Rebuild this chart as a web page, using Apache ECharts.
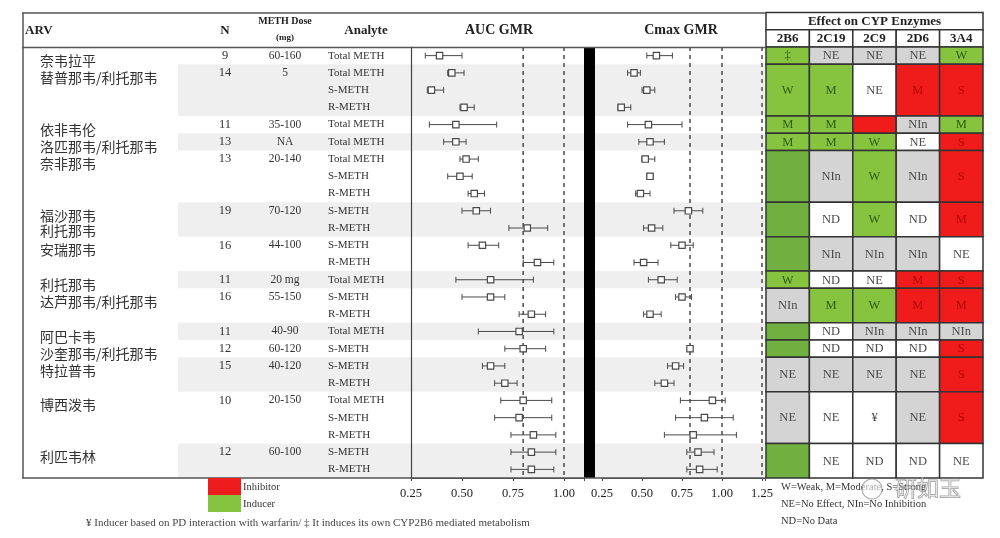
<!DOCTYPE html>
<html><head><meta charset="utf-8">
<script src="https://cdn.jsdelivr.net/npm/echarts@6/dist/echarts.min.js"></script>
<style>html,body{margin:0;padding:0;background:#fff}#c{width:1000px;height:538px}</style>
</head><body><div id="c"></div>
<script>
// ---------------- data ----------------
const arvNames = ['奈韦拉平','替普那韦/利托那韦','依非韦伦','洛匹那韦/利托那韦','奈非那韦','福沙那韦\n利托那韦','安瑞那韦','利托那韦','达芦那韦/利托那韦','阿巴卡韦','沙奎那韦/利托那韦','特拉普韦','博西泼韦','利匹韦林'];
const arvRowCount = [1,3,1,1,3,2,2,1,2,1,1,2,3,2];
const arvN = ['9','14','11','13','13','19','16','11','16','11','12','15','10','12'];
const arvDose = ['60-160','5','35-100','NA','20-140','70-120','44-100','20 mg','55-150','40-90','60-120','40-120','20-150','60-100'];
const analytes = ['Total METH','Total METH','S-METH','R-METH','Total METH','Total METH','Total METH','S-METH','R-METH','S-METH','R-METH','S-METH','R-METH','Total METH','S-METH','R-METH','Total METH','S-METH','S-METH','R-METH','Total METH','S-METH','R-METH','S-METH','R-METH'];

const aucGmr  = [0.39,0.45,0.35,0.51,0.47,0.47,0.52,0.49,0.56,0.57,0.82,0.60,0.87,0.64,0.64,0.84,0.78,0.80,0.64,0.71,0.80,0.78,0.85,0.84,0.84];
const aucLow  = [0.32,0.43,0.33,0.49,0.34,0.41,0.49,0.43,0.53,0.50,0.73,0.53,0.80,0.47,0.50,0.78,0.58,0.71,0.60,0.66,0.69,0.66,0.74,0.74,0.74];
const aucHigh = [0.50,0.51,0.41,0.56,0.67,0.52,0.58,0.55,0.61,0.64,0.92,0.68,0.95,0.85,0.71,0.91,0.95,0.91,0.71,0.77,0.94,0.94,0.96,0.96,0.95];

const cmaxGmr  = [0.59,0.45,0.53,0.37,0.54,0.55,0.52,0.55,0.49,0.79,0.56,0.75,0.51,0.62,0.75,0.55,null,0.80,0.71,0.64,0.94,0.89,0.82,0.85,0.86];
const cmaxLow  = [0.53,0.41,0.50,0.35,0.41,0.48,0.50,0.53,0.46,0.70,0.51,0.68,0.45,0.54,0.71,0.51,null,0.79,0.66,0.58,0.74,0.71,0.64,0.78,0.78];
const cmaxHigh = [0.69,0.49,0.58,0.43,0.75,0.64,0.58,0.57,0.55,0.88,0.63,0.82,0.60,0.72,0.81,0.62,null,0.81,0.76,0.70,1.02,1.07,1.09,0.95,0.97];

const aucRefLines = [0.8, 1.0];
const cmaxRefLines = [0.8, 1.0, 1.25];
const aucTicks = ['0.25','0.50','0.75','1.00'];
const cmaxTicks = ['0.25','0.50','0.75','1.00','1.25'];

const enzymes = ['2B6','2C19','2C9','2D6','3A4'];
// [kind, label] per ARV; kind: ind=inducer, inh=inhibitor, gray, none
const cyp2B6  = [['ind','‡'],['ind','W'],['ind','M'],['ind','M'],['ind',''],['ind',''],['ind',''],['ind','W'],['gray','NIn'],['ind',''],['ind',''],['gray','NE'],['gray','NE'],['ind','']];
const cyp2C19 = [['gray','NE'],['ind','M'],['ind','M'],['ind','M'],['gray','NIn'],['none','ND'],['gray','NIn'],['none','ND'],['ind','M'],['none','ND'],['none','ND'],['gray','NE'],['none','NE'],['none','NE']];
const cyp2C9  = [['gray','NE'],['none','NE'],['inh',''],['ind','W'],['ind','W'],['ind','W'],['gray','NIn'],['none','NE'],['ind','W'],['gray','NIn'],['none','ND'],['gray','NE'],['none','¥'],['none','ND']];
const cyp2D6  = [['gray','NE'],['inh','M'],['gray','NIn'],['none','NE'],['gray','NIn'],['none','ND'],['gray','NIn'],['inh','M'],['inh','M'],['gray','NIn'],['none','ND'],['gray','NE'],['gray','NE'],['none','ND']];
const cyp3A4  = [['ind','W'],['inh','S'],['ind','M'],['inh','S'],['inh','S'],['inh','M'],['none','NE'],['inh','S'],['inh','M'],['gray','NIn'],['inh','S'],['inh','S'],['inh','S'],['none','NE']];
const cypAll = [cyp2B6, cyp2C19, cyp2C9, cyp2D6, cyp3A4];

// ---------------- build ----------------
const SERIF = '"Liberation Serif", serif';
const CJK = '"Noto Sans CJK SC", "Noto Sans", sans-serif';
const NROW = analytes.length;
const groups = [];
{ let r = 0; arvRowCount.forEach((n, i) => { groups.push({ i, start: r, end: r + n }); r += n; }); }

const cells = [];
cypAll.forEach((col, ci) => groups.forEach((g, ai) => cells.push({ ci, start: g.start, end: g.end, kind: col[ai][0], text: col[ai][1] })));

const fills = { ind: '#86c440', inh: '#f01c1c', gray: '#d4d4d4', none: '#ffffff' };
const txtCol = { ind: '#2e5f14', inh: '#b80000', gray: '#4a4a4a', none: '#4a4a4a' };

function txt(text, x, y, o) {
  return Object.assign({ text, x, y, fill: '#222', fontFamily: SERIF, fontSize: 12,
    textAlign: 'left', align: 'left', textVerticalAlign: 'middle', verticalAlign: 'middle' }, o || {});
}
function alignC(o) { return Object.assign({ textAlign: 'center', align: 'center' }, o || {}); }

function forestRender() {
  return function (params, api) {
    const y = api.value(3);
    const pm = api.coord([api.value(0), y]);
    const pl = api.coord([api.value(1), y]);
    const ph = api.coord([api.value(2), y]);
    const cap = 3, s = 3.2, st = { stroke: '#4a4a4a', lineWidth: 1 };
    return { type: 'group', children: [
      { type: 'line', shape: { x1: pl[0], y1: pl[1], x2: ph[0], y2: ph[1] }, style: st },
      { type: 'line', shape: { x1: pl[0], y1: pl[1] - cap, x2: pl[0], y2: pl[1] + cap }, style: st },
      { type: 'line', shape: { x1: ph[0], y1: ph[1] - cap, x2: ph[0], y2: ph[1] + cap }, style: st },
      { type: 'rect', shape: { x: pm[0] - s, y: pm[1] - s, width: 2 * s, height: 2 * s }, style: { fill: '#fff', stroke: '#4a4a4a', lineWidth: 1.2 } }
    ] };
  };
}
function refRender(params, api) {
  const p0 = api.coord([api.value(0), 0]);
  const p1 = api.coord([api.value(0), NROW]);
  return { type: 'line', shape: { x1: p0[0], y1: p0[1], x2: p1[0], y2: p1[1] }, style: { stroke: '#555', lineWidth: 1.6, lineDash: [4, 4] } };
}
const aucData = analytes.map((a, i) => [aucGmr[i], aucLow[i], aucHigh[i], i + 0.5]);
const cmaxData = analytes.map((a, i) => [cmaxGmr[i], cmaxLow[i], cmaxHigh[i], i + 0.5]).filter(d => d[0] != null);

function tickFmt(list) {
  return v => { const s = v.toFixed(2); return list.indexOf(s) >= 0 ? s : ''; };
}

const yBase = { type: 'value', min: 0, max: NROW, inverse: true, show: false };
const xForest = (gi, max, ticks) => ({ gridIndex: gi, type: 'value', position: 'bottom', min: 0.25, max, interval: 0.25, splitLine: { show: false },
  axisLine: { show: true, onZero: false, lineStyle: { color: '#444' } },
  axisTick: { show: true, length: 3, lineStyle: { color: '#444' } },
  axisLabel: { formatter: tickFmt(ticks), color: '#222', fontFamily: 'Liberation Serif', fontSize: 12.5, margin: 9 } });

const option = {
  animation: false,
  backgroundColor: '#fff',
  grid: [
    { left: 23, top: 47, width: 742, height: 431 },
    { left: 411, top: 47, width: 173.4, height: 431 },
    { left: 602, top: 47, width: 163.2, height: 431 },
    { left: 766, top: 47, width: 217, height: 431 }
  ],
  xAxis: [
    { gridIndex: 0, type: 'value', min: 0, max: 742, show: false },
    xForest(1, 1.1, aucTicks),
    xForest(2, 1.27, cmaxTicks),
    { gridIndex: 3, type: 'category', data: enzymes, show: false }
  ],
  yAxis: [
    Object.assign({ gridIndex: 0 }, yBase),
    { gridIndex: 1, type: 'value', min: 0, max: NROW, inverse: true, splitLine: { show: false },
      axisLine: { show: true, onZero: false, lineStyle: { color: '#444', width: 1.2 } }, axisTick: { show: false }, axisLabel: { show: false } },
    Object.assign({ gridIndex: 2 }, yBase),
    Object.assign({ gridIndex: 3 }, yBase)
  ],
  series: [
    // shading of alternating ARV groups
    { type: 'custom', xAxisIndex: 0, yAxisIndex: 0, z: 0, silent: true,
      data: groups.map(g => [g.start, g.end]),
      renderItem: (params, api) => {
        const g = groups[params.dataIndex];
        if (g.i % 2 === 0) return null;
        const p0 = api.coord([155, g.start]), p1 = api.coord([742, g.end]);
        return { type: 'rect', shape: { x: p0[0], y: p0[1], width: p1[0] - p0[0], height: p1[1] - p0[1] }, style: { fill: '#efefef' } };
      } },
    // ARV, N, dose
    { type: 'custom', xAxisIndex: 0, yAxisIndex: 0, z: 3, silent: true,
      data: groups.map(g => [g.start, g.end]),
      renderItem: (params, api) => {
        const g = groups[params.dataIndex];
        const yc = api.coord([0, g.start + 0.5])[1];
        const xName = api.coord([17, 0])[0], xN = api.coord([202, 0])[0], xD = api.coord([262, 0])[0];
        return { type: 'group', children: [
          { type: 'text', style: txt(arvNames[g.i], xName, yc - 3, { fontFamily: CJK, fontSize: 14, fill: '#333', lineHeight: 15.5, textVerticalAlign: 'top', verticalAlign: 'top' }) },
          { type: 'text', style: txt(arvN[g.i], xN, yc, alignC({ fontSize: 12.5, fill: '#333' })) },
          { type: 'text', style: txt(arvDose[g.i], xD, yc, alignC({ fontSize: 11.5, fill: '#333' })) }
        ] };
      } },
    // analyte
    { type: 'custom', xAxisIndex: 0, yAxisIndex: 0, z: 3, silent: true,
      data: analytes.map((a, i) => [305, i + 0.5]),
      renderItem: (params, api) => {
        const p = api.coord([api.value(0), api.value(1)]);
        return { type: 'text', style: txt(analytes[params.dataIndex], p[0], p[1], { fontSize: 11, fill: '#333' }) };
      } },
    // reference dashed lines
    { type: 'custom', xAxisIndex: 1, yAxisIndex: 1, z: 2, silent: true, data: aucRefLines.map(v => [v]), renderItem: refRender },
    { type: 'custom', xAxisIndex: 2, yAxisIndex: 2, z: 2, silent: true, data: cmaxRefLines.map(v => [v]), renderItem: refRender },
    // forest plots
    { type: 'custom', xAxisIndex: 1, yAxisIndex: 1, z: 4, silent: true, data: aucData, renderItem: forestRender() },
    { type: 'custom', xAxisIndex: 2, yAxisIndex: 2, z: 4, silent: true, data: cmaxData, renderItem: forestRender() },
    // CYP header
    { type: 'custom', xAxisIndex: 3, yAxisIndex: 3, z: 4, silent: true,
      data: enzymes.map((e, i) => [i]),
      renderItem: (params, api) => {
        const i = params.dataIndex;
        const w = api.size([1, 0])[0];
        const p0 = api.coord([i, -1]), p1 = api.coord([i, 0]);
        const ch = [
          { type: 'rect', shape: { x: p0[0] - w / 2, y: p0[1], width: w, height: p1[1] - p0[1] }, style: { fill: '#fff', stroke: '#333', lineWidth: 1.5 } },
          { type: 'text', style: txt(enzymes[i], p0[0], (p0[1] + p1[1]) / 2 + 0.5, alignC({ fontSize: 13, fontWeight: 'bold', fill: '#222' })) }
        ];
        if (i === 0) {
          const q0 = api.coord([0, -2]), q1 = api.coord([enzymes.length - 1, -1]);
          const x0 = q0[0] - w / 2, x1 = q1[0] + w / 2;
          ch.unshift({ type: 'rect', shape: { x: x0, y: q0[1], width: x1 - x0, height: q1[1] - q0[1] }, style: { fill: '#fff', stroke: '#333', lineWidth: 1.5 } });
          ch.push({ type: 'text', style: txt('Effect on CYP Enzymes', (x0 + x1) / 2, (q0[1] + q1[1]) / 2 + 0.5, alignC({ fontSize: 13, fontWeight: 'bold', fill: '#222' })) });
        }
        return { type: 'group', children: ch };
      } },
    // CYP cells
    { type: 'custom', xAxisIndex: 3, yAxisIndex: 3, z: 4, silent: true,
      data: cells.map(c => [c.ci, c.start, c.end]),
      renderItem: (params, api) => {
        const c = cells[params.dataIndex];
        const w = api.size([1, 0])[0];
        const p0 = api.coord([c.ci, c.start]), p1 = api.coord([c.ci, c.end]);
        let fill = fills[c.kind];
        if (c.kind === 'ind' && c.text === '') fill = '#70b040';
        return { type: 'group', children: [
          { type: 'rect', shape: { x: p0[0] - w / 2, y: p0[1], width: w, height: p1[1] - p0[1] }, style: { fill, stroke: '#333', lineWidth: 1.5 } },
          { type: 'text', style: txt(c.text, p0[0], (p0[1] + p1[1]) / 2 + 0.5, alignC({ fontSize: 12.5, fill: txtCol[c.kind] })) }
        ] };
      } }
  ],
  graphic: [
    { type: 'rect', z: 100, shape: { x: 584, y: 47, width: 11, height: 431 }, style: { fill: '#000' } },
    { type: 'line', z: 100, shape: { x1: 22, y1: 13, x2: 766, y2: 13 }, style: { stroke: '#555', lineWidth: 1.5 } },
    { type: 'line', z: 100, shape: { x1: 22, y1: 47.5, x2: 766, y2: 47.5 }, style: { stroke: '#555', lineWidth: 1.5 } },
    { type: 'line', z: 100, shape: { x1: 22, y1: 478, x2: 766, y2: 478 }, style: { stroke: '#555', lineWidth: 1.5 } },
    { type: 'line', z: 100, shape: { x1: 23, y1: 13, x2: 23, y2: 478 }, style: { stroke: '#555', lineWidth: 1.5 } },
    { type: 'text', z: 100, style: txt('ARV', 25, 31, { fontSize: 13, fontWeight: 'bold' }) },
    { type: 'text', z: 100, style: txt('N', 225, 31, alignC({ fontSize: 13, fontWeight: 'bold' })) },
    { type: 'text', z: 100, style: txt('METH Dose', 285, 21, alignC({ fontSize: 10, fontWeight: 'bold' })) },
    { type: 'text', z: 100, style: txt('(mg)', 285, 38, alignC({ fontSize: 9, fontWeight: 'bold' })) },
    { type: 'text', z: 100, style: txt('Analyte', 366, 31, alignC({ fontSize: 13, fontWeight: 'bold' })) },
    { type: 'text', z: 100, style: txt('AUC GMR', 499, 30, alignC({ fontSize: 14, fontWeight: 'bold' })) },
    { type: 'text', z: 100, style: txt('Cmax GMR', 681, 30, alignC({ fontSize: 14, fontWeight: 'bold' })) },
    { type: 'rect', z: 100, shape: { x: 208, y: 478, width: 33, height: 17 }, style: { fill: '#ee1c1c' } },
    { type: 'rect', z: 100, shape: { x: 208, y: 495, width: 33, height: 17 }, style: { fill: '#86c440' } },
    { type: 'text', z: 100, style: txt('Inhibitor', 243, 487, { fontSize: 10.5, fill: '#333' }) },
    { type: 'text', z: 100, style: txt('Inducer', 243, 504, { fontSize: 10.5, fill: '#333' }) },
    { type: 'text', z: 100, style: txt('¥ Inducer based on PD interaction with warfarin/ ‡ It induces its own CYP2B6 mediated metabolism', 86, 523, { fontSize: 11, fill: '#444' }) },
    { type: 'text', z: 100, style: txt('W=Weak, M=Moderate, S=Strong', 781, 487, { fontSize: 10.5, fill: '#333' }) },
    { type: 'text', z: 100, style: txt('NE=No Effect, NIn=No Inhibition', 781, 504, { fontSize: 10.5, fill: '#333' }) },
    { type: 'text', z: 100, style: txt('ND=No Data', 781, 521, { fontSize: 10.5, fill: '#333' }) },
    { type: 'circle', z: 101, shape: { cx: 872, cy: 489, r: 10 }, style: { fill: 'rgba(255,255,255,0.6)', stroke: 'rgba(140,140,140,0.7)', lineWidth: 1.2 } },
    { type: 'text', z: 101, style: txt('研如玉', 895, 488, { fontFamily: CJK, fontSize: 22, fill: 'rgba(255,255,255,0.3)', stroke: 'rgba(130,130,130,0.75)', lineWidth: 1 }) }
  ]
};
const chart = echarts.init(document.getElementById('c'), null, { renderer: 'canvas' });
chart.setOption(option);
</script>
</body></html>
